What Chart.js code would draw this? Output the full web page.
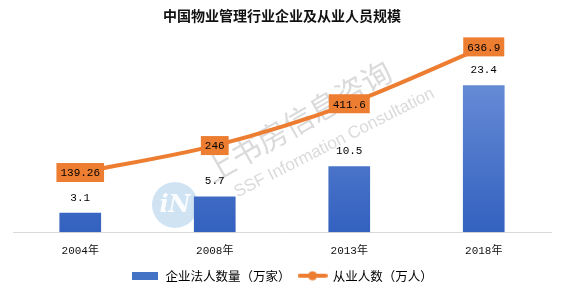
<!DOCTYPE html>
<html>
<head>
<meta charset="utf-8">
<script src="https://cdn.jsdelivr.net/npm/chart.js@4.4.0/dist/chart.umd.min.js"></script>
<style>
  html, body { margin: 0; padding: 0; background: #fff; }
  #wrap { width: 565px; height: 298px; }
</style>
</head>
<body>
<div id="wrap"><canvas id="canvas"></canvas></div>
<script>
// data
const years = ["2004年", "2008年", "2013年", "2018年"];
const companies = [3.1, 5.7, 10.5, 23.4];       // 企业法人数量（万家）
const employees = [139.26, 246, 411.6, 636.9];   // 从业人数（万人）
const companyLabels = ["3.1", "5.7", "10.5", "23.4"];
const employeeLabels = ["139.26", "246", "411.6", "636.9"];

const ORANGE = "#ED7D31";
const numFont = "11px 'Liberation Mono', 'Noto Sans CJK SC', monospace";

// legend swatches
function barSwatch() {
  const c = document.createElement("canvas");
  c.width = 26; c.height = 8;
  const x = c.getContext("2d");
  x.fillStyle = "#4472C4";
  x.fillRect(0, 0, 26, 8);
  return c;
}
function lineSwatch() {
  const c = document.createElement("canvas");
  c.width = 30; c.height = 10;
  const x = c.getContext("2d");
  x.strokeStyle = ORANGE; x.lineWidth = 4; x.lineCap = "round";
  x.beginPath(); x.moveTo(2, 5); x.lineTo(28, 5); x.stroke();
  x.fillStyle = ORANGE;
  x.beginPath(); x.arc(15, 5, 4.5, 0, Math.PI * 2); x.fill();
  return c;
}

const watermark = {
  id: "watermark",
  beforeDatasetsDraw(chart) {
    const ctx = chart.ctx;
    ctx.save();
    // logo
    ctx.fillStyle = "rgba(120,175,220,0.35)";
    ctx.beginPath(); ctx.arc(175, 205, 23, 0, Math.PI * 2); ctx.fill();
    ctx.fillStyle = "rgba(255,255,255,0.9)";
    ctx.font = "italic bold 24px 'DejaVu Serif', serif";
    ctx.textAlign = "center"; ctx.textBaseline = "middle";
    ctx.fillText("iN", 175, 206);
    // text
    ctx.translate(302, 128);
    ctx.rotate(-30 * Math.PI / 180);
    ctx.fillStyle = "rgba(150,150,150,0.35)";
    ctx.font = "30px 'Noto Sans CJK SC'";
    ctx.fillText("上书房信息咨询", 0, -8);
    ctx.rotate(3 * Math.PI / 180);
    ctx.font = "17px 'Liberation Sans', Arial";
    ctx.fillText("SSF Information Consultation", 22, 28);
    ctx.restore();
  }
};

const valueLabels = {
  id: "valueLabels",
  afterDatasetsDraw(chart) {
    const ctx = chart.ctx;
    ctx.save();
    ctx.font = numFont;
    ctx.textAlign = "center";
    ctx.textBaseline = "middle";
    chart.getDatasetMeta(0).data.forEach((el, i) => {
      ctx.fillStyle = "#000";
      ctx.fillText(companyLabels[i], el.x, el.y - 15);
    });
    chart.getDatasetMeta(1).data.forEach((el, i) => {
      const w = ctx.measureText(employeeLabels[i]).width + 8;
      const h = 19;
      ctx.fillStyle = ORANGE;
      ctx.fillRect(el.x - w / 2, el.y - h / 2, w, h);
      ctx.fillStyle = "#000";
      ctx.fillText(employeeLabels[i], el.x, el.y + 1);
    });
    ctx.restore();
  }
};

const ctx = document.getElementById("canvas").getContext("2d");
new Chart(ctx, {
  data: {
    labels: years,
    datasets: [
      {
        type: "bar",
        label: "企业法人数量（万家）",
        data: companies,
        yAxisID: "y",
        order: 1,
        barPercentage: 0.62,
        categoryPercentage: 0.5,
        backgroundColor: (c) => {
          const area = c.chart.chartArea;
          if (!area) return "#4472C4";
          const g = c.chart.ctx.createLinearGradient(0, area.top, 0, area.bottom);
          g.addColorStop(0, "#7597dc");
          g.addColorStop(1, "#3361bf");
          return g;
        }
      },
      {
        type: "line",
        label: "从业人数（万人）",
        data: employees,
        yAxisID: "y1",
        order: 0,
        borderColor: ORANGE,
        borderWidth: 4,
        tension: 0.3,
        pointRadius: 0,
        fill: false
      }
    ]
  },
  options: {
    responsive: true,
    maintainAspectRatio: false,
    animation: false,
    layout: { padding: { left: 13, right: 14, top: 0, bottom: 6 } },
    plugins: {
      tooltip: { enabled: false },
      title: {
        display: true,
        text: "中国物业管理行业企业及从业人员规模",
        color: "#111",
        font: { family: "'Noto Sans CJK SC'", size: 14, weight: "bold" },
        padding: { top: 7, bottom: 16 }
      },
      legend: {
        position: "bottom",
        labels: {
          usePointStyle: true,
          pointStyleWidth: 28,
          padding: 8,
          color: "#222",
          font: { family: "'Noto Sans CJK SC'", size: 12.5 },
          generateLabels: () => [
            { text: "企业法人数量（万家）", pointStyle: barSwatch(), fillStyle: "#4472C4", strokeStyle: "#4472C4", lineWidth: 0, datasetIndex: 0 },
            { text: "从业人数（万人）", pointStyle: lineSwatch(), fillStyle: ORANGE, strokeStyle: ORANGE, lineWidth: 0, datasetIndex: 1 }
          ]
        }
      }
    },
    scales: {
      x: {
        grid: { display: false },
        border: { color: "#d9d9d9", width: 1 },
        ticks: { color: "#111", font: { family: "'Liberation Mono', 'Noto Sans CJK SC'", size: 11 }, padding: 4 }
      },
      y: { display: false, min: 0, max: 30.65 },
      y1: { display: false, min: -97.5, max: 664.9 }
    }
  },
  plugins: [watermark, valueLabels]
});
</script>
</body>
</html>
